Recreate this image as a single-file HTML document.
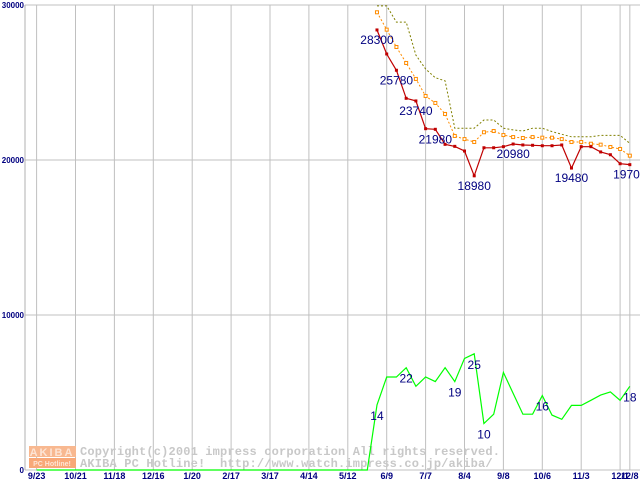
<!DOCTYPE html>
<html><head><meta charset="utf-8"><style>
html,body{margin:0;padding:0;background:#fff;}
svg{display:block;}
text{font-family:"Liberation Sans",sans-serif;}
text.mono{font-family:"Liberation Mono",monospace;}
</style></head><body>
<svg id="chart" width="640" height="480" xmlns="http://www.w3.org/2000/svg">
  <rect x="0" y="0" width="640" height="480" fill="#fff"/>
  <g id="grid"></g>
  <g id="watermark">
    <rect x="29" y="446" width="47" height="11" fill="#f8b890"/>
    <rect x="29" y="458" width="47" height="10" fill="#f8a878"/>
    <text x="52" y="456" font-size="11" font-weight="bold" fill="#fde4d4" text-anchor="middle" letter-spacing="2">AKIBA</text>
    <text x="52" y="466" font-size="7" font-weight="bold" fill="#fde4d4" text-anchor="middle">PC Hotline!</text>
    <text class="mono" x="80" y="455" font-size="12" font-weight="bold" fill="#c8c8c8" letter-spacing="0.17">Copyright(c)2001 impress corporation All rights reserved.</text>
    <text class="mono" x="80" y="467" font-size="12" font-weight="bold" fill="#c8c8c8" letter-spacing="0.17" xml:space="preserve">AKIBA PC Hotline!  http://www.watch.impress.co.jp/akiba/</text>
  </g>
  <g id="series"></g>
  <g id="labels"></g>
</svg>
<script>
const xTickLabels = ["9/23","10/21","11/18","12/16","1/20","2/17","3/17","4/14","5/12","6/9","7/7","8/4","9/8","10/6","11/3","12/1","12/8"];
const xTickWeeks = [0,4,8,12,16,20,24,28,32,36,40,44,48,52,56,60,61];
const yTicks = [0,10000,20000,30000];
const priceStartWeek = 35;
const minPrice = [28390,26840,25790,23980,23810,22020,21980,21010,20880,20580,18980,20790,20790,20860,21030,20970,20950,20920,20920,20970,19480,20860,20860,20520,20340,19760,19700];
const minLabels = {0:"28300",2:"25780",4:"23740",6:"21980",10:"18980",14:"20980",20:"19480",26:"19700"};
const avgPrice = [29530,28410,27290,26260,25230,24130,23680,22970,21550,21350,21160,21790,21870,21610,21480,21420,21480,21440,21440,21350,21160,21160,21050,20990,20840,20710,20280];
const maxPrice = [29940,29940,28900,28900,26770,25870,25310,25100,22050,22050,22050,22580,22580,22050,21940,21870,22050,22050,21830,21660,21500,21500,21500,21590,21590,21590,21080];
const shopCount = [14,20,20,22,18,20,19,22,19,24,25,10,12,21,16.5,12,12,16,11.8,10.9,13.9,13.9,15,16.1,16.8,15,18];
const countLabels = {0:"14",3:"22",8:"19",10:"25",11:"10",17:"16",26:"18"};
const countZeroWeeks = 35;

const NS="http://www.w3.org/2000/svg";
const X0=36.6, WEEK=9.725, Y0=470, PPU=155/10000, CSCALE=300;
const xs=w=>X0+w*WEEK;
const yp=v=>Y0-v*PPU;
function mk(tag,attrs,parent){const e=document.createElementNS(NS,tag);for(const k in attrs)e.setAttribute(k,attrs[k]);parent.appendChild(e);return e;}
const grid=document.getElementById('grid'), series=document.getElementById('series'), labels=document.getElementById('labels');

xTickWeeks.forEach((w,i)=>{
  const l=mk('line',{x1:xs(w),x2:xs(w),y1:5,y2:Y0,stroke:'#c0c0c0','stroke-width':1},grid);
  
  
  const t=mk('text',{x:xs(w),y:479,'font-size':9,'font-weight':'bold',fill:'#000080','text-anchor':'middle'},grid);
  t.textContent=xTickLabels[i];
  
  
});
yTicks.forEach(v=>{
  const l=mk('line',{x1:25,x2:640,y1:yp(v),y2:yp(v),stroke:'#c0c0c0','stroke-width':1},grid);
  
  
  const t=mk('text',{x:24,y:yp(v)+3,'font-size':8,'font-weight':'bold',fill:'#000080','text-anchor':'end'},grid);
  t.textContent=String(v);
  
  
});
const ax=mk('line',{x1:25,x2:25,y1:5,y2:Y0,stroke:'#b0b0b0'},grid);



function poly(vals,start,scale,attrs,name){
  const pts=vals.map((v,i)=>xs(start+i).toFixed(1)+','+yp(v*scale).toFixed(1)).join(' ');
  const p=mk('polyline',Object.assign({points:pts,fill:'none'},attrs),series);
  
  
}
poly(maxPrice,priceStartWeek,1,{stroke:'#808000','stroke-width':1,'stroke-dasharray':'2,2'},'max-price-line');
poly(avgPrice,priceStartWeek,1,{stroke:'#ff8c00','stroke-width':1,'stroke-dasharray':'2,2'},'avg-price-line');
avgPrice.forEach((v,i)=>{
  const r=mk('rect',{x:xs(priceStartWeek+i)-1.5,y:yp(v)-1.5,width:3,height:3,fill:'#fff',stroke:'#ff8c00','stroke-width':1},series);
  
  
});
poly(minPrice,priceStartWeek,1,{stroke:'#c00000','stroke-width':1.2},'min-price-line');
minPrice.forEach((v,i)=>{
  const r=mk('rect',{x:xs(priceStartWeek+i)-1.5,y:yp(v)-1.5,width:3,height:3,fill:'#c00000'},series);
  
  
});
const counts=new Array(countZeroWeeks).fill(0).concat(shopCount);
poly(counts,0,CSCALE,{stroke:'#00ff00','stroke-width':1.2},'shop-count-line');

for(const k in minLabels){
  const i=+k;
  const t=mk('text',{x:xs(priceStartWeek+i),y:yp(minPrice[i])+14,'font-size':12,fill:'#000080','text-anchor':'middle'},labels);
  t.textContent=minLabels[k];
  
  
}
for(const k in countLabels){
  const i=+k;
  const t=mk('text',{x:xs(priceStartWeek+i),y:yp(shopCount[i]*CSCALE)+15,'font-size':12,fill:'#000080','text-anchor':'middle'},labels);
  t.textContent=countLabels[k];
  
  
}
</script>
</body></html>
